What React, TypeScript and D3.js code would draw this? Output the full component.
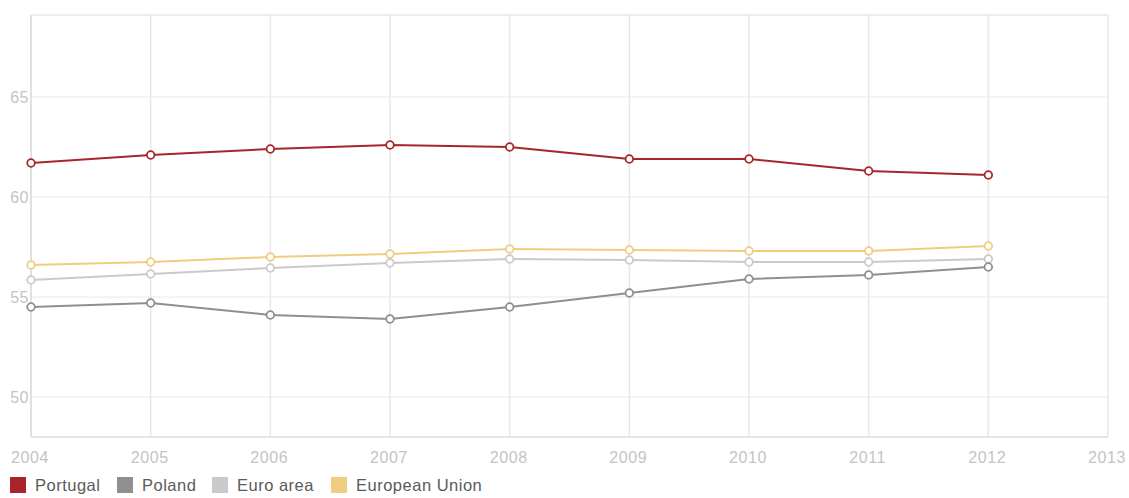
import React from "react";
import * as d3 from "d3";

const years = [2004, 2005, 2006, 2007, 2008, 2009, 2010, 2011, 2012];
const portugal = [61.7, 62.1, 62.4, 62.6, 62.5, 61.9, 61.9, 61.3, 61.1];
const poland = [54.5, 54.7, 54.1, 53.9, 54.5, 55.2, 55.9, 56.1, 56.5];
const euroArea = [55.85, 56.15, 56.45, 56.7, 56.9, 56.85, 56.75, 56.75, 56.9];
const europeanUnion = [56.6, 56.75, 57.0, 57.15, 57.4, 57.35, 57.3, 57.3, 57.55];
const yTicks = [50, 55, 60, 65];
const xTicks = [2004, 2005, 2006, 2007, 2008, 2009, 2010, 2011, 2012, 2013];

const seriesNames = ["Portugal", "Poland", "Euro area", "European Union"];
const seriesColors = ["#a8262b", "#8f8f8f", "#cacaca", "#efcd80"];
const seriesValues = [portugal, poland, euroArea, europeanUnion];

export default function App() {
  const W = 1129, H = 498;
  const left = 31, right = 1108, top = 15, bottom = 437;
  const x = d3.scaleLinear().domain([2004, 2013]).range([left, right]);
  const y = d3.scaleLinear().domain([48, 69]).range([bottom, top + 2]);
  const line = d3.line<number>().x((_, i) => x(years[i])).y((v) => y(v));
  const font = "'Liberation Sans', Arial, sans-serif";
  const legendX = [10, 117, 212, 331];
  const drawOrder = [3, 2, 1, 0];
  return (
    <svg width={W} height={H} style={{ position: "absolute", left: 0, top: 0, background: "#fff" }}>
      <rect x={0} y={0} width={W} height={H} fill="#fff" />
      {yTicks.map((t) => (
        <line key={"gy" + t} x1={left} x2={right} y1={y(t)} y2={y(t)} stroke="#e8e8e8" strokeWidth={1} />
      ))}
      {xTicks.map((t) => (
        <line key={"gx" + t} x1={x(t)} x2={x(t)} y1={top} y2={bottom} stroke="#e8e8e8" strokeWidth={1.5} />
      ))}
      <line x1={left} x2={right} y1={top} y2={top} stroke="#e8e8e8" strokeWidth={1.5} />
      <line x1={left} x2={right} y1={bottom} y2={bottom} stroke="#dcdcdc" strokeWidth={1.5} />
      <line x1={left} x2={left} y1={top} y2={bottom} stroke="#dcdcdc" strokeWidth={1.5} />
      {yTicks.map((t) => (
        <text key={"ly" + t} x={29} y={y(t)} dy="0.35em" textAnchor="end" fontFamily={font} fontSize={16} fill="#c4c4c4" letterSpacing={0.5}>
          {t}
        </text>
      ))}
      {xTicks.map((t) => (
        <text key={"lx" + t} x={x(t) - 1} y={463} textAnchor="middle" fontFamily={font} fontSize={16} fill="#c4c4c4" letterSpacing={0.6}>
          {t}
        </text>
      ))}
      {drawOrder.map((si) => (
        <g key={"s" + si}>
          <path d={line(seriesValues[si]) || ""} fill="none" stroke={seriesColors[si]} strokeWidth={2} />
          {seriesValues[si].map((v, i) => (
            <circle key={i} cx={x(years[i])} cy={y(v)} r={3.8} fill="#fff" stroke={seriesColors[si]} strokeWidth={1.8} />
          ))}
        </g>
      ))}
      {seriesNames.map((n, i) => (
        <g key={"lg" + n}>
          <rect x={legendX[i]} y={477} width={16} height={16} fill={seriesColors[i]} />
          <text x={legendX[i] + 25} y={491} fontFamily={font} fontSize={16.5} fill="#5a5a5a" letterSpacing={0.5}>
            {n}
          </text>
        </g>
      ))}
    </svg>
  );
}
